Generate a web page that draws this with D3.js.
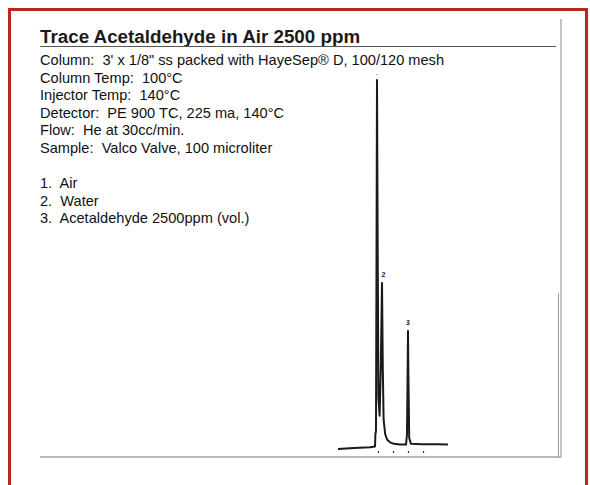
<!DOCTYPE html>
<html>
<head>
<meta charset="utf-8">
<script src="https://cdn.jsdelivr.net/npm/d3@7"></script>
<style>
  body { margin: 0; background: #fff; }
  svg { display: block; font-family: "Liberation Sans", Arial, sans-serif; }
</style>
</head>
<body>
<svg id="chart" width="590" height="485"></svg>
<script>
const title = 'Trace Acetaldehyde in Air 2500 ppm';

const conditions = [
    'Column:  3\' x 1/8" ss packed with HayeSep\u00AE D, 100/120 mesh',
    'Column Temp:  100\u00B0C',
    'Injector Temp:  140\u00B0C',
    'Detector:  PE 900 TC, 225 ma, 140\u00B0C',
    'Flow:  He at 30cc/min.',
    'Sample:  Valco Valve, 100 microliter'
];

const peakNames = ['Air', 'Water', 'Acetaldehyde 2500ppm (vol.)'];

// retention time (min) and peak height (relative)
const peakTimes = [1.95, 2.2, 3.5];
const peakHeights = [100, 45, 32];

// detector trace: [time, signal]
const trace = [
    [0, 0], [0.8, 0.3], [1.6, 0.5], [1.85, 0.7], [1.87, 4], [1.9, 5],
    [1.93, 60], [1.95, 100], [1.98, 60], [2.02, 14], [2.08, 9],
    [2.14, 22], [2.2, 45], [2.24, 22], [2.28, 8], [2.36, 4],
    [2.46, 2.5], [2.6, 1.8], [2.8, 1.4], [3.1, 1.2], [3.4, 1.2],
    [3.45, 4], [3.48, 20], [3.5, 32], [3.52, 20], [3.56, 3],
    [3.65, 1.4], [4.2, 1.3], [5.0, 1.3], [5.5, 1.2]
];

const markTimes = [2.0, 2.75, 3.5, 4.25];

const svg = d3.select('#chart');

// red outer frame
svg.append('path')
    .attr('d', 'M9.5,490 V9.5 H586.5 V490')
    .attr('fill', 'none')
    .attr('stroke', '#b8291c')
    .attr('stroke-width', 3);

// inner gray frame
svg.append('line').attr('x1', 561).attr('x2', 561).attr('y1', 19).attr('y2', 457)
    .attr('stroke', '#8a8a8a').attr('stroke-width', 1);
svg.append('line').attr('x1', 558.5).attr('x2', 558.5).attr('y1', 293).attr('y2', 457)
    .attr('stroke', '#9a9a9a').attr('stroke-width', 1);
svg.append('line').attr('x1', 40).attr('x2', 561).attr('y1', 457).attr('y2', 457)
    .attr('stroke', '#a0a0a0').attr('stroke-width', 1.3);

// title
svg.append('text')
    .attr('x', 40).attr('y', 42.5)
    .attr('font-size', 18.8).attr('font-weight', 'bold')
    .attr('fill', '#1e1a1a')
    .text(title);
svg.append('line').attr('x1', 40).attr('x2', 556).attr('y1', 46.5).attr('y2', 46.5)
    .attr('stroke', '#555').attr('stroke-width', 1);

// conditions text
const lineH = 17.5;
svg.append('g').selectAll('text')
    .data(conditions)
    .enter()
    .append('text')
    .attr('x', 40)
    .attr('y', (d, i) => 65 + i * lineH)
    .attr('font-size', 14.6)
    .attr('fill', '#111')
    .style('white-space', 'pre')
    .text(d => d);

svg.append('g').selectAll('text')
    .data(peakNames)
    .enter()
    .append('text')
    .attr('x', 40)
    .attr('y', (d, i) => 188 + i * lineH)
    .attr('font-size', 14.6)
    .attr('fill', '#111')
    .style('white-space', 'pre')
    .text((d, i) => `${i + 1}.  ${d}`);

// chromatogram
const x = d3.scaleLinear().domain([0, 5.5]).range([338, 448]);
const y = d3.scaleLinear().domain([0, 100]).range([449, 80]);

const line = d3.line()
    .x(d => x(d[0]))
    .y(d => y(d[1]));

svg.append('path')
    .datum(trace)
    .attr('d', line)
    .attr('fill', 'none')
    .attr('stroke', '#1a1a1a')
    .attr('stroke-width', 2)
    .attr('stroke-linejoin', 'round');

// peak numbers
svg.append('g').selectAll('text')
    .data(peakTimes)
    .enter()
    .append('text')
    .attr('x', (d, i) => x(d) + (i === 1 ? 1.5 : 0))
    .attr('y', (d, i) => y(peakHeights[i]) - 6)
    .attr('text-anchor', 'middle')
    .attr('font-size', 7)
    .attr('font-weight', 'bold')
    .attr('fill', '#222')
    .text((d, i) => i === 0 ? '\u02CC' : i + 1);

// time marks under the trace
const axis = d3.axisBottom(x)
    .tickValues(markTimes)
    .tickSize(2)
    .tickFormat('');
svg.append('g')
    .attr('transform', 'translate(0,451)')
    .call(axis)
    .call(g => g.select('.domain').remove())
    .call(g => g.selectAll('.tick line').attr('stroke', '#333').attr('stroke-width', 1.2));
</script>
</body>
</html>
